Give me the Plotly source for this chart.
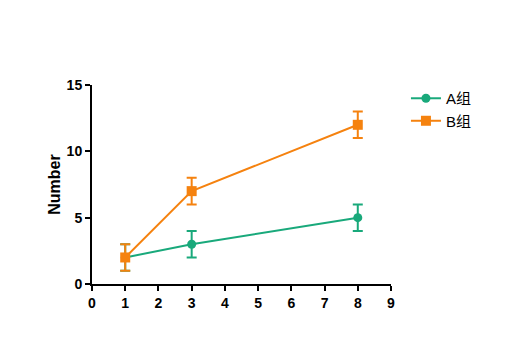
import plotly.graph_objects as go

x_vals = [1, 3, 8]
a_vals = [2, 3, 5]
a_err = [1, 1, 1]
b_vals = [2, 7, 12]
b_err = [1, 1, 1]
names = ["A组", "B组"]
x_ticks = list(range(0, 10))
y_ticks = [0, 5, 10, 15]

green = "#19a97b"
orange = "#f5820f"

fig = go.Figure()
fig.add_trace(go.Scatter(
    x=x_vals, y=a_vals, name=names[0], mode="lines+markers",
    line=dict(color=green, width=2),
    marker=dict(symbol="circle", size=9, color=green),
    error_y=dict(type="data", array=a_err, color=green, thickness=2, width=5),
))
fig.add_trace(go.Scatter(
    x=x_vals, y=b_vals, name=names[1], mode="lines+markers",
    line=dict(color=orange, width=2),
    marker=dict(symbol="square", size=10, color=orange),
    error_y=dict(type="data", array=b_err, color=orange, thickness=2, width=5),
))

fig.update_layout(
    width=527, height=351,
    margin=dict(l=92, r=136, t=85, b=67),
    paper_bgcolor="white", plot_bgcolor="white",
    font=dict(family="Liberation Sans, Arial, Noto Sans CJK SC, sans-serif", color="black"),
    showlegend=True,
    legend=dict(x=1.05, y=1.015, xanchor="left", yanchor="top",
                font=dict(size=15, family="Liberation Sans, Arial, Noto Sans CJK SC, sans-serif"),
                bgcolor="rgba(0,0,0,0)", tracegroupgap=0),
    xaxis=dict(range=[0, 9], tickvals=x_ticks, showgrid=False, zeroline=False,
               showline=True, linecolor="black", linewidth=2,
               ticks="outside", ticklen=5, tickwidth=2, tickcolor="black",
               tickfont=dict(family="Liberation Sans, Arial", size=14, color="black", weight="bold")),
    yaxis=dict(range=[0, 15], tickvals=y_ticks, showgrid=False, zeroline=False,
               showline=True, linecolor="black", linewidth=2,
               ticks="outside", ticklen=5, tickwidth=2, tickcolor="black",
               tickfont=dict(family="Liberation Sans, Arial", size=14, color="black", weight="bold"),
               title=dict(text="<b>Number</b>", font=dict(family="Liberation Sans, Arial", size=16, color="black"),
                          standoff=2)),
)

fig.write_html("out.html")
